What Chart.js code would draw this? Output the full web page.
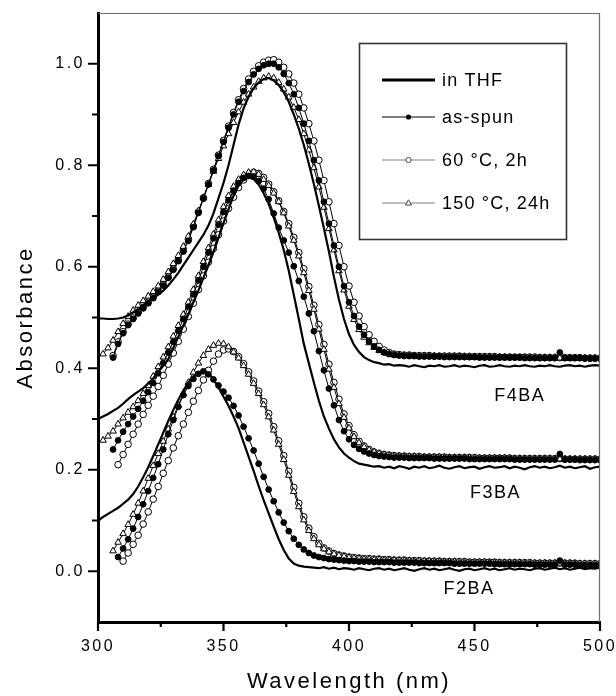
<!DOCTYPE html>
<html><head><meta charset="utf-8">
<script src="https://cdn.jsdelivr.net/npm/chart.js@4/dist/chart.umd.min.js"></script>
<style>html,body{margin:0;padding:0;background:#fff}#wrap{width:616px;height:696px}</style>
</head><body><div id="wrap"><canvas id="c" width="616" height="696"></canvas></div>
<script>
// ---------- DATA ----------
const wavelengths = [
300,302,304,306,308,310,312,314,316,318,
320,322,324,326,328,330,332,334,336,338,
340,342,344,346,348,350,352,354,356,358,
360,362,364,366,368,370,372,374,376,378,
380,382,384,386,388,390,392,394,396,398,
400,402,404,406,408,410,412,414,416,418,
420,422,424,426,428,430,432,434,436,438,
440,442,444,446,448,450,452,454,456,458,
460,462,464,466,468,470,472,474,476,478,
480,482,484,486,488,490,492,494,496,498,
500];
const xTickValues = [300, 350, 400, 450, 500];
const xMinorTickValues = [325, 375, 425, 475];
const yTickValues = [0, 0.2, 0.4, 0.6, 0.8, 1.0];
const yTickLabels = ['0.0', '0.2', '0.4', '0.6', '0.8', '1.0'];
const yMinorTickValues = [0.1, 0.3, 0.5, 0.7, 0.9];
const legendLabels = ['in THF', 'as-spun', '60 \u00B0C, 2h', '150 \u00B0C, 24h'];
const sampleNames = ['F4BA', 'F3BA', 'F2BA'];
const sampleLabelAnchors = [[468, 0.346], [458.4, 0.154], [447.8, -0.036]]; // (nm, absorbance)

// F4BA
const thfF4BA = [
0.498,0.498,0.497,0.497,0.498,0.500,0.504,0.510,0.517,0.524,
0.531,0.538,0.545,0.553,0.563,0.575,0.588,0.603,0.618,0.633,
0.648,0.663,0.681,0.705,0.735,0.765,0.800,0.840,0.880,0.912,
0.935,0.952,0.963,0.970,0.972,0.967,0.958,0.944,0.925,0.900,
0.872,0.840,0.803,0.763,0.720,0.676,0.630,0.580,0.535,0.497,
0.467,0.446,0.432,0.422,0.416,0.412,0.410,0.407,0.408,0.405,
0.406,0.405,0.403,0.406,0.404,0.402,0.405,0.404,0.406,0.403,
0.404,0.406,0.403,0.405,0.404,0.402,0.405,0.406,0.403,0.404,
0.406,0.404,0.403,0.405,0.404,0.406,0.404,0.403,0.405,0.404,
0.406,0.404,0.403,0.405,0.406,0.404,0.405,0.403,0.405,0.406,
0.405];
const spunF4BA = [
null,null,null,0.421,0.448,0.469,0.485,0.497,0.508,0.518,
0.528,0.538,0.550,0.563,0.578,0.594,0.611,0.630,0.651,0.678,
0.706,0.734,0.762,0.790,0.818,0.846,0.874,0.900,0.925,0.946,
0.964,0.979,0.990,0.997,1.000,1.000,0.993,0.980,0.962,0.940,
0.913,0.882,0.848,0.810,0.770,0.728,0.685,0.642,0.600,0.562,
0.530,0.503,0.482,0.466,0.453,0.443,0.436,0.431,0.428,0.426,
0.425,0.424,0.424,0.424,0.423,0.423,0.423,0.423,0.423,0.422,
0.422,0.422,0.422,0.422,0.422,0.422,0.421,0.421,0.421,0.421,
0.421,0.421,0.421,0.421,0.421,0.420,0.420,0.420,0.420,0.420,
0.420,0.420,0.431,0.420,0.420,0.420,0.420,0.419,0.419,0.419,
0.419];
const c60F4BA = [
null,null,null,0.425,0.452,0.472,0.487,0.499,0.510,0.520,
0.530,0.540,0.552,0.565,0.580,0.596,0.613,0.632,0.654,0.680,
0.708,0.736,0.764,0.792,0.820,0.849,0.877,0.904,0.929,0.951,
0.970,0.985,0.996,1.003,1.007,1.008,1.003,0.993,0.980,0.962,
0.940,0.913,0.882,0.848,0.810,0.770,0.728,0.685,0.642,0.600,
0.562,0.530,0.503,0.482,0.466,0.453,0.443,0.436,0.431,0.428,
0.427,0.426,0.426,0.425,0.425,0.425,0.425,0.424,0.424,0.424,
0.424,0.424,0.424,0.423,0.423,0.423,0.423,0.423,0.423,0.423,
0.422,0.422,0.422,0.422,0.422,0.422,0.422,0.422,0.421,0.421,
0.421,0.421,0.421,0.421,0.421,0.421,0.421,0.420,0.420,0.420,
0.420];
const c150F4BA = [
null,0.428,0.440,0.455,0.472,0.488,0.502,0.514,0.524,0.533,
0.542,0.551,0.562,0.575,0.590,0.606,0.622,0.640,0.660,0.684,
0.710,0.736,0.762,0.788,0.813,0.838,0.862,0.884,0.905,0.924,
0.940,0.954,0.965,0.972,0.975,0.972,0.963,0.950,0.934,0.914,
0.890,0.862,0.830,0.795,0.757,0.717,0.675,0.633,0.592,0.554,
0.522,0.496,0.476,0.461,0.450,0.441,0.435,0.431,0.428,0.426,
0.425,0.425,0.425,0.424,0.424,0.424,0.424,0.424,0.423,0.423,
0.423,0.423,0.423,0.423,0.423,0.422,0.422,0.422,0.422,0.422,
0.422,0.422,0.422,0.421,0.421,0.421,0.421,0.421,0.421,0.421,
0.421,0.421,0.420,0.420,0.420,0.420,0.420,0.420,0.420,0.420,
0.420];

// F3BA
const thfF3BA = [
0.300,0.305,0.310,0.316,0.322,0.330,0.339,0.347,0.354,0.361,
0.370,0.380,0.393,0.405,0.418,0.440,0.462,0.484,0.506,0.530,
0.553,0.578,0.603,0.629,0.657,0.686,0.713,0.740,0.760,0.772,
0.777,0.773,0.762,0.745,0.724,0.697,0.667,0.633,0.592,0.545,
0.497,0.448,0.410,0.372,0.336,0.305,0.281,0.260,0.244,0.232,
0.224,0.217,0.212,0.210,0.208,0.206,0.207,0.204,0.206,0.203,
0.207,0.205,0.202,0.206,0.204,0.207,0.203,0.205,0.208,0.204,
0.202,0.205,0.207,0.203,0.205,0.206,0.202,0.205,0.207,0.204,
0.205,0.207,0.203,0.206,0.204,0.201,0.205,0.207,0.204,0.206,
0.203,0.205,0.208,0.204,0.206,0.203,0.205,0.207,0.202,0.205,
0.206];
const spunF3BA = [
null,null,null,0.240,0.258,0.275,0.290,0.305,0.320,0.336,
0.353,0.371,0.390,0.410,0.431,0.452,0.474,0.497,0.521,0.546,
0.573,0.600,0.628,0.656,0.683,0.708,0.731,0.750,0.765,0.775,
0.779,0.777,0.769,0.754,0.733,0.705,0.677,0.652,0.628,0.601,
0.572,0.541,0.508,0.473,0.434,0.396,0.360,0.327,0.298,0.276,
0.260,0.249,0.241,0.236,0.232,0.229,0.227,0.226,0.225,0.224,
0.224,0.224,0.223,0.223,0.223,0.223,0.223,0.222,0.222,0.222,
0.222,0.222,0.222,0.222,0.221,0.221,0.221,0.221,0.221,0.221,
0.221,0.221,0.221,0.220,0.220,0.220,0.220,0.220,0.220,0.220,
0.220,0.220,0.231,0.220,0.220,0.220,0.219,0.219,0.219,0.219,
0.219];
const c60F3BA = [
null,null,null,null,0.210,0.230,0.250,0.270,0.290,0.309,
0.327,0.345,0.364,0.386,0.408,0.430,0.453,0.477,0.502,0.528,
0.555,0.582,0.609,0.636,0.663,0.690,0.715,0.737,0.756,0.771,
0.781,0.786,0.784,0.776,0.763,0.748,0.730,0.709,0.685,0.658,
0.628,0.596,0.561,0.524,0.486,0.447,0.408,0.372,0.339,0.310,
0.287,0.269,0.256,0.247,0.240,0.235,0.232,0.230,0.229,0.228,
0.227,0.227,0.226,0.226,0.226,0.225,0.225,0.225,0.225,0.225,
0.224,0.224,0.224,0.224,0.224,0.224,0.223,0.223,0.223,0.223,
0.223,0.223,0.223,0.222,0.222,0.222,0.222,0.222,0.222,0.222,
0.222,0.222,0.222,0.221,0.221,0.221,0.221,0.221,0.221,0.221,
0.221];
const c150F3BA = [
null,0.258,0.266,0.276,0.290,0.302,0.313,0.324,0.336,0.350,
0.366,0.384,0.403,0.422,0.442,0.463,0.484,0.506,0.530,0.555,
0.582,0.610,0.637,0.664,0.692,0.718,0.740,0.758,0.772,0.781,
0.786,0.787,0.782,0.772,0.760,0.745,0.728,0.706,0.680,0.652,
0.621,0.588,0.553,0.516,0.477,0.437,0.398,0.362,0.330,0.303,
0.282,0.265,0.253,0.245,0.239,0.235,0.232,0.230,0.228,0.227,
0.227,0.226,0.226,0.226,0.225,0.225,0.225,0.225,0.225,0.224,
0.224,0.224,0.224,0.224,0.224,0.223,0.223,0.223,0.223,0.223,
0.223,0.223,0.223,0.222,0.222,0.222,0.222,0.222,0.222,0.222,
0.222,0.221,0.221,0.221,0.221,0.221,0.221,0.221,0.221,0.221,
0.221];

// F2BA
const thfF2BA = [
0.099,0.107,0.113,0.119,0.125,0.133,0.141,0.152,0.167,0.185,
0.205,0.227,0.250,0.273,0.296,0.318,0.338,0.356,0.372,0.383,
0.391,0.395,0.390,0.378,0.362,0.344,0.326,0.305,0.282,0.254,
0.226,0.198,0.168,0.140,0.114,0.088,0.063,0.042,0.025,0.015,
0.011,0.009,0.008,0.007,0.006,0.008,0.005,0.007,0.004,0.006,
0.005,0.003,0.006,0.004,0.002,0.005,0.006,0.003,0.005,0.002,
0.004,0.006,0.003,0.001,0.004,0.006,0.003,0.005,0.002,0.004,
0.006,0.003,0.001,0.004,0.005,0.002,0.004,0.006,0.003,0.005,
0.002,0.004,0.006,0.003,0.005,0.004,0.002,0.005,0.006,0.003,
0.005,0.007,0.004,0.006,0.003,0.005,0.007,0.004,0.006,0.005,
0.007];
const spunF2BA = [
null,null,null,null,0.028,0.045,0.063,0.084,0.107,0.132,
0.158,0.184,0.211,0.240,0.270,0.298,0.324,0.347,0.365,0.379,
0.389,0.394,0.388,0.378,0.366,0.354,0.342,0.326,0.307,0.285,
0.262,0.238,0.212,0.186,0.161,0.138,0.116,0.096,0.079,0.064,
0.052,0.043,0.036,0.031,0.028,0.026,0.024,0.023,0.022,0.021,
0.020,0.020,0.019,0.019,0.019,0.018,0.018,0.018,0.018,0.017,
0.017,0.017,0.017,0.017,0.016,0.016,0.016,0.016,0.016,0.016,
0.016,0.015,0.015,0.015,0.015,0.015,0.015,0.015,0.015,0.014,
0.014,0.014,0.014,0.014,0.014,0.014,0.014,0.013,0.013,0.013,
0.013,0.013,0.021,0.013,0.013,0.013,0.012,0.012,0.012,0.012,
0.012];
const c60F2BA = [
null,null,null,null,null,0.020,0.036,0.053,0.071,0.093,
0.117,0.142,0.167,0.193,0.218,0.243,0.267,0.290,0.313,0.335,
0.356,0.377,0.396,0.414,0.428,0.436,0.438,0.433,0.423,0.409,
0.393,0.375,0.355,0.334,0.311,0.285,0.257,0.228,0.197,0.165,
0.134,0.107,0.085,0.068,0.055,0.046,0.040,0.035,0.032,0.030,
0.028,0.027,0.026,0.025,0.025,0.024,0.024,0.023,0.023,0.022,
0.022,0.022,0.021,0.021,0.021,0.020,0.020,0.020,0.020,0.019,
0.019,0.019,0.019,0.019,0.018,0.018,0.018,0.018,0.018,0.018,
0.017,0.017,0.017,0.017,0.017,0.017,0.017,0.016,0.016,0.016,
0.016,0.016,0.016,0.016,0.016,0.016,0.015,0.015,0.015,0.015,
0.015];
const c150F2BA = [
null,null,null,0.040,0.057,0.074,0.092,0.112,0.134,0.158,
0.183,0.208,0.232,0.256,0.280,0.304,0.327,0.350,0.372,0.392,
0.410,0.425,0.437,0.445,0.449,0.448,0.442,0.432,0.420,0.405,
0.388,0.370,0.350,0.328,0.304,0.278,0.250,0.220,0.189,0.157,
0.127,0.101,0.080,0.064,0.052,0.044,0.038,0.034,0.031,0.029,
0.027,0.026,0.025,0.024,0.024,0.023,0.023,0.022,0.022,0.022,
0.021,0.021,0.021,0.020,0.020,0.020,0.020,0.019,0.019,0.019,
0.019,0.019,0.018,0.018,0.018,0.018,0.018,0.018,0.017,0.017,
0.017,0.017,0.017,0.017,0.017,0.016,0.016,0.016,0.016,0.016,
0.016,0.016,0.016,0.016,0.016,0.015,0.015,0.015,0.015,0.015,
0.015];

// ---------- STYLES ----------
const FONT = "'Liberation Sans', Arial, Helvetica, sans-serif";
const styles = {
  thf:  {borderColor:'#000', borderWidth:2.2, pointRadius:0},
  spun: {borderColor:'#000', borderWidth:1, pointStyle:'circle', pointRadius:2.9, pointBackgroundColor:'#000', pointBorderColor:'#000', pointBorderWidth:1},
  c60:  {borderColor:'#000', borderWidth:1, pointStyle:'circle', pointRadius:3.3, pointBackgroundColor:'#fff', pointBorderColor:'#000', pointBorderWidth:1},
  c150: {borderColor:'#000', borderWidth:1, pointStyle:'triangle', pointRadius:3.8, pointBackgroundColor:'#fff', pointBorderColor:'#000', pointBorderWidth:1}
};
function mk(values, key){
  const pts = [];
  wavelengths.forEach((x,i)=>{ if(values[i]!==null) pts.push({x:x, y:values[i]}); });
  return Object.assign({data:pts, fill:false, tension:0, pointHoverRadius:0}, styles[key]);
}
// first dataset is drawn on top
const datasets = [
  mk(thfF4BA,'thf'), mk(thfF3BA,'thf'), mk(thfF2BA,'thf'),
  mk(spunF4BA,'spun'), mk(spunF3BA,'spun'), mk(spunF2BA,'spun'),
  mk(c150F4BA,'c150'), mk(c150F3BA,'c150'), mk(c150F2BA,'c150'),
  mk(c60F4BA,'c60'), mk(c60F3BA,'c60'), mk(c60F2BA,'c60')
];

// ---------- PLUGINS ----------
const textSpacing = {
  id:'textSpacing',
  beforeDraw(chart){ chart.ctx.letterSpacing = '2.5px'; }
};
function noPad(s){ s.paddingLeft = 0; s.paddingRight = 0; s.paddingTop = 0; s.paddingBottom = 0; }
const frameAndTicks = {
  id:'frameAndTicks',
  afterDraw(chart){
    const {ctx, chartArea:a, scales:{x, y}} = chart;
    ctx.save();
    ctx.letterSpacing = '0px';
    // thin top/right frame
    ctx.strokeStyle = '#6e6e6e'; ctx.lineWidth = 1.2;
    ctx.beginPath();
    ctx.moveTo(a.left, a.top + 0.5); ctx.lineTo(a.right - 0.5, a.top + 0.5); ctx.lineTo(a.right - 0.5, a.bottom);
    ctx.stroke();
    // ticks
    ctx.strokeStyle = '#000'; ctx.lineWidth = 2.2;
    ctx.beginPath();
    xTickValues.forEach(v=>{ const p = x.getPixelForValue(v); ctx.moveTo(p, a.bottom); ctx.lineTo(p, a.bottom + 9); });
    xMinorTickValues.forEach(v=>{ const p = x.getPixelForValue(v); ctx.moveTo(p, a.bottom); ctx.lineTo(p, a.bottom + 5); });
    yTickValues.forEach(v=>{ const p = y.getPixelForValue(v); ctx.moveTo(a.left, p); ctx.lineTo(a.left - 10, p); });
    yMinorTickValues.forEach(v=>{ const p = y.getPixelForValue(v); ctx.moveTo(a.left, p); ctx.lineTo(a.left - 6, p); });
    ctx.stroke();
    // sample labels
    ctx.fillStyle = '#000';
    ctx.font = '18px ' + FONT;
    ctx.letterSpacing = '1.5px';
    ctx.textAlign = 'center'; ctx.textBaseline = 'middle';
    sampleNames.forEach((n,i)=>{
      ctx.fillText(n, x.getPixelForValue(sampleLabelAnchors[i][0]), y.getPixelForValue(sampleLabelAnchors[i][1]));
    });
    // legend
    const bx = 359.5, by = 43.5, bw = 207, bh = 196;
    ctx.lineWidth = 1.6; ctx.strokeStyle = '#333';
    ctx.strokeRect(bx, by, bw, bh);
    const rows = [80, 117, 160, 203];
    const lx0 = 382, lx1 = 435, mx = 408.5;
    rows.forEach((ry,i)=>{
      ctx.beginPath();
      if(i===0){ ctx.strokeStyle='#000'; ctx.lineWidth=3; }
      else if(i===1){ ctx.strokeStyle='#000'; ctx.lineWidth=1; }
      else { ctx.strokeStyle='#808080'; ctx.lineWidth=1.2; }
      ctx.moveTo(lx0, ry); ctx.lineTo(lx1, ry); ctx.stroke();
      ctx.lineWidth = 1;
      if(i===1){ ctx.fillStyle='#000'; ctx.beginPath(); ctx.arc(mx, ry, 2.6, 0, Math.PI*2); ctx.fill(); }
      if(i===2){ ctx.fillStyle='#fff'; ctx.strokeStyle='#444'; ctx.beginPath(); ctx.arc(mx, ry, 2.6, 0, Math.PI*2); ctx.fill(); ctx.stroke(); }
      if(i===3){ ctx.fillStyle='#fff'; ctx.strokeStyle='#444'; ctx.beginPath(); ctx.moveTo(mx, ry-3.2); ctx.lineTo(mx+3, ry+2); ctx.lineTo(mx-3, ry+2); ctx.closePath(); ctx.fill(); ctx.stroke(); }
      ctx.fillStyle = '#000';
      ctx.font = '18px ' + FONT;
      ctx.letterSpacing = '1.2px';
      ctx.textAlign = 'left'; ctx.textBaseline = 'middle';
      ctx.fillText(legendLabels[i], 442, ry + 1);
    });
    ctx.restore();
  }
};

// ---------- CHART ----------
new Chart(document.getElementById('c'), {
  type:'line',
  data:{ datasets },
  options:{
    responsive:false, animation:false, devicePixelRatio:1,
    layout:{ padding:{ left:0, right:16, top:13, bottom:0 } },
    plugins:{ legend:{display:false}, tooltip:{enabled:false} },
    scales:{
      x:{
        type:'linear', min:300, max:500,
        afterBuildTicks(s){ s.ticks = xTickValues.map(v=>({value:v})); },
        afterFit(s){ s.height = 74; noPad(s); },
        grid:{ display:false },
        border:{ display:true, color:'#000', width:3 },
        ticks:{ color:'#000', padding:7, font:{ family:FONT, size:16 }, maxRotation:0, autoSkip:false, callback:(v)=>String(v) },
        title:{ display:true, text:'Wavelength (nm)', color:'#000', font:{ family:FONT, size:22 }, padding:{ top:0, bottom:1 } }
      },
      y:{
        type:'linear', min:-0.1, max:1.1,
        afterBuildTicks(s){ s.ticks = yTickValues.map(v=>({value:v})); },
        afterFit(s){ s.width = 98; noPad(s); },
        grid:{ display:false },
        border:{ display:true, color:'#000', width:3 },
        ticks:{ color:'#000', padding:5, font:{ family:FONT, size:16 }, autoSkip:false, callback:(v,i)=>yTickLabels[i] },
        title:{ display:true, text:'Absorbance', color:'#000', font:{ family:FONT, size:22 }, padding:{ top:13, bottom:0 } }
      }
    }
  },
  plugins:[textSpacing, frameAndTicks]
});
</script>
</body></html>
